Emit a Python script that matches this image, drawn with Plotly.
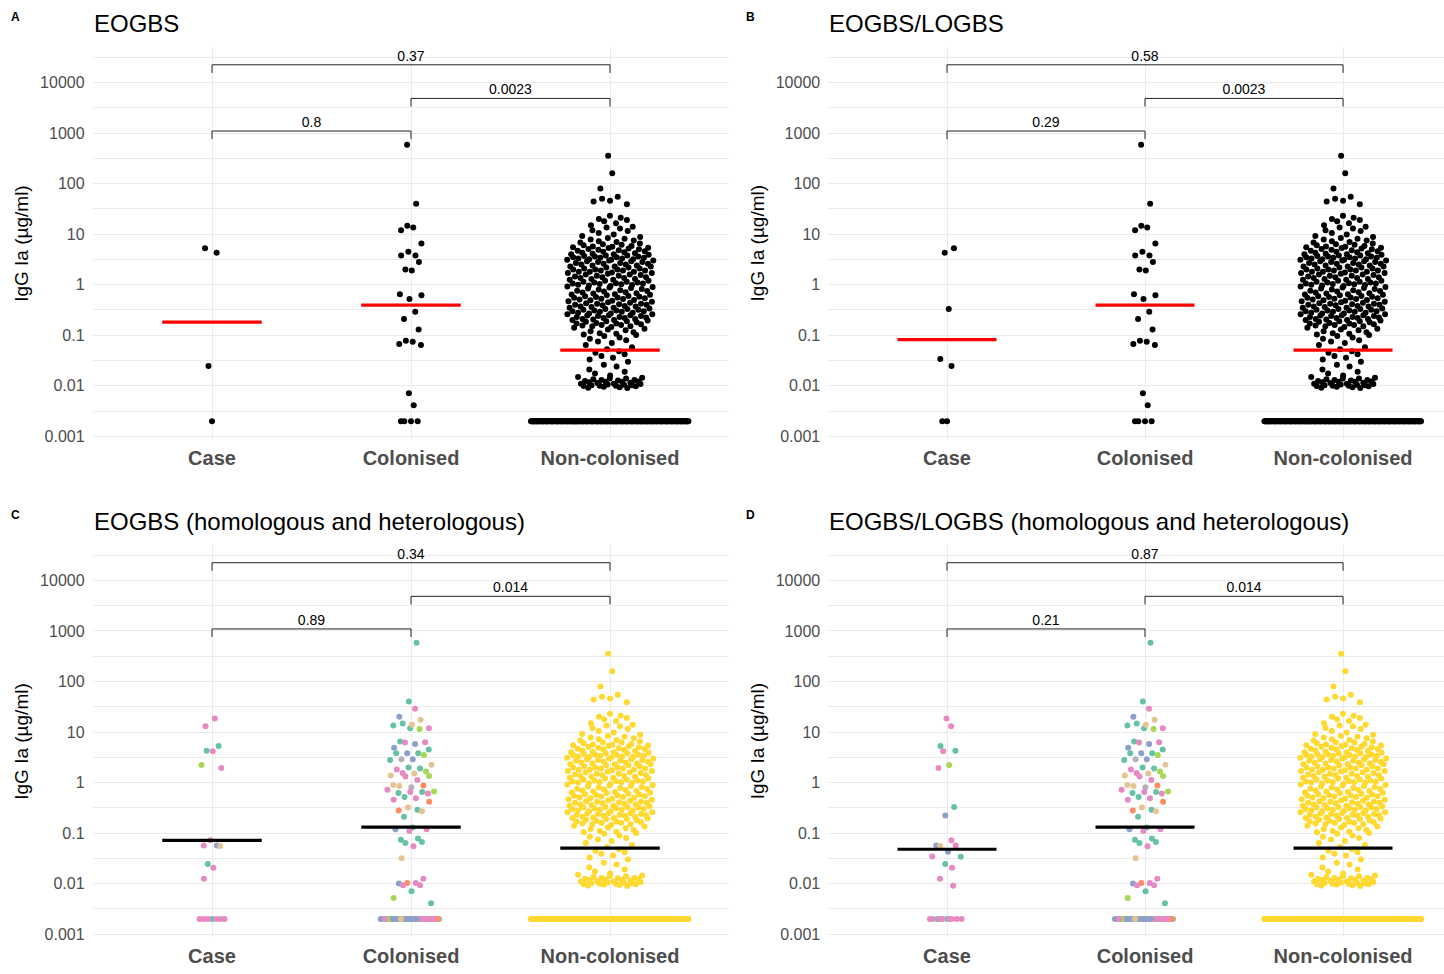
import numpy as np
import plotly.graph_objects as go

# ---------------------------------------------------------------------------
# Data: IgG Ia concentrations (µg/ml); 0.002 = below the limit of detection
# ---------------------------------------------------------------------------
groups = ["Case", "Colonised", "Non-colonised"]

# Serotype Ia (homologous) cases, early onset, and the extra late-onset ones
case_ia_eo = [5.27, 4.28, 0.0245, 0.002]
case_ia_lo_extra = [0.33, 0.034, 0.002]

# Heterologous cases (other serotypes), early onset and extra late-onset
case_het_eo = [18.6, 13.0, 4.18, 2.22, 1.94, 0.072, 0.057, 0.057, 0.056,
               0.0206, 0.0125, 0.002, 0.002, 0.002, 0.002, 0.002, 0.002]
case_het_eo_type = ["III", "III", "III", "IV", "III", "III", "III", "II", "V",
                    "III", "III", "III", "III", "III", "III", "III", "III"]
case_het_lo_extra = [0.224, 0.043, 0.0345, 0.0091, 0.002, 0.002]
case_het_lo_extra_type = ["II", "II", "III", "III", "III", "III"]

# Colonised mothers, serotype Ia
colonised_ia = [585, 40, 14.7, 13.5, 11.9, 6.5, 4.5, 3.8, 3.8, 2.8, 2.0, 1.9,
                0.65, 0.62, 0.52, 0.29, 0.21, 0.13, 0.078, 0.074, 0.067, 0.064,
                0.0071, 0.0041, 0.002, 0.002, 0.002, 0.002]

# Colonised mothers, other serotypes
colonised_het = [29, 20, 17.5, 14, 11.9, 11.5, 6.3, 6.2, 5.8, 4.9, 3.8, 3.5,
                 2.9, 2.9, 2.25, 1.82, 1.66, 1.55, 1.52, 1.39, 1.35, 1.32, 1.12,
                 0.90, 0.88, 0.86, 0.81, 0.72, 0.67, 0.65, 0.61, 0.49, 0.46,
                 0.42, 0.32, 0.28, 0.27, 0.12, 0.12, 0.11, 0.055, 0.032,
                 0.0125, 0.0103, 0.0103, 0.0101, 0.0093, 0.0093, 0.0052,
                 0.002, 0.002, 0.002, 0.002, 0.002, 0.002, 0.002, 0.002, 0.002,
                 0.002, 0.002, 0.002, 0.002, 0.002, 0.002, 0.002, 0.002, 0.002,
                 0.002, 0.002, 0.002, 0.002, 0.002, 0.002, 0.002, 0.002]
colonised_het_type = ["III", "II", "V", "V", "III", "IV", "III", "III", "II",
                      "II", "II", "IV", "II", "NT", "V", "III", "IV", "III",
                      "V", "V", "IV", "III", "III", "V", "Ib", "V", "NT", "III",
                      "IV", "III", "III", "III", "III", "Ib", "V", "Ib", "V",
                      "III", "II", "III", "III", "V", "III", "III", "Ib", "II",
                      "III", "III", "IV",
                      "V", "IV", "III", "III", "III", "II", "III", "II", "III",
                      "III", "NT", "II", "II", "II", "III", "IV", "III", "II",
                      "Ib", "III", "II", "V", "III", "II", "III", "II"]

# Non-colonised mothers
noncolonised = [
    356, 160, 80,
    55, 50, 46, 44, 39,
    23, 21, 20, 19, 18,
    16.5, 15, 14, 13.5, 13, 12, 11.5, 10.5,
    9.8, 9.2, 8.8, 8.4, 8.1, 7.8, 7.5, 7.2, 7.0, 6.8, 6.5, 6.3, 6.2, 6.0,
    5.8, 5.7,
    5.6, 5.5, 5.4, 5.3, 5.2, 5.1, 5.0, 4.9, 4.8, 4.7, 4.6, 4.5, 4.4, 4.3,
    4.2, 4.1, 4.0, 4.0, 3.9, 3.8, 3.8, 3.7, 3.6, 3.6, 3.5, 3.5, 3.4, 3.4,
    3.3, 3.3, 3.2, 3.2,
    3.1, 3.1, 3.0, 3.0, 2.9, 2.9, 2.8, 2.8, 2.7, 2.7, 2.6, 2.6, 2.5, 2.5,
    2.4, 2.4, 2.3, 2.3, 2.3, 2.2, 2.2, 2.1, 2.1, 2.0, 2.0, 2.0, 1.9, 1.9,
    1.9, 1.8, 1.8, 1.8,
    1.75, 1.7, 1.7, 1.65, 1.6, 1.6, 1.55, 1.5, 1.5, 1.45, 1.4, 1.4, 1.35,
    1.35, 1.3, 1.3, 1.25, 1.25, 1.2, 1.2, 1.15, 1.15, 1.1, 1.1, 1.07, 1.05,
    1.05, 1.03, 1.02, 1.0,
    0.99, 0.96, 0.94, 0.92, 0.9, 0.88, 0.86, 0.84, 0.82, 0.8, 0.78, 0.76,
    0.75, 0.73, 0.71, 0.7, 0.68, 0.67, 0.65, 0.64, 0.63, 0.62, 0.6, 0.59,
    0.58, 0.57, 0.56,
    0.55, 0.54, 0.53, 0.52, 0.51, 0.5, 0.49, 0.48, 0.47, 0.46, 0.45, 0.44,
    0.43, 0.42, 0.42, 0.41, 0.4, 0.4, 0.39, 0.38, 0.37, 0.37, 0.36, 0.35,
    0.35, 0.34, 0.33, 0.33, 0.32, 0.32,
    0.31, 0.31, 0.3, 0.3, 0.29, 0.29, 0.28, 0.28, 0.27, 0.27, 0.26, 0.26,
    0.25, 0.25, 0.245, 0.24, 0.24, 0.23, 0.23, 0.225, 0.22, 0.22, 0.21, 0.21,
    0.205, 0.2, 0.2, 0.195, 0.19, 0.19, 0.185, 0.18,
    0.175, 0.17, 0.17, 0.165, 0.16, 0.16, 0.155, 0.15, 0.15, 0.145, 0.14,
    0.135, 0.13, 0.125, 0.12, 0.115, 0.11, 0.107, 0.104, 0.101,
    0.097, 0.09, 0.085, 0.08, 0.075, 0.07, 0.064, 0.058,
    0.053, 0.048, 0.045, 0.042, 0.039, 0.036, 0.033,
    0.03, 0.026, 0.024, 0.021, 0.019,
    0.0175, 0.016, 0.015, 0.0145, 0.014, 0.014, 0.0135, 0.013, 0.013, 0.0128,
    0.0125, 0.0122, 0.012, 0.012, 0.0118, 0.0115, 0.0113, 0.011, 0.011,
    0.0108, 0.0106, 0.0105, 0.0103, 0.0102, 0.01, 0.01, 0.0099, 0.0098,
    0.0096, 0.0094, 0.0092, 0.009]
noncolonised_below_lod = [0.002] * 226

# p-values of the pairwise comparisons: (Case-Colonised, Colonised-Non, Case-Non)
p_values = {
    "A": ["0.8", "0.0023", "0.37"],
    "B": ["0.29", "0.0023", "0.58"],
    "C": ["0.89", "0.014", "0.34"],
    "D": ["0.21", "0.014", "0.87"],
}
titles = {
    "A": "EOGBS",
    "B": "EOGBS/LOGBS",
    "C": "EOGBS (homologous and heterologous)",
    "D": "EOGBS/LOGBS (homologous and heterologous)",
}

serotype_colours = {"Ia": "#66C2A5", "Ib": "#FC8D62", "II": "#8DA0CB",
                    "III": "#E78AC3", "IV": "#A6D854", "V": "#E5C494",
                    "NT": "#B3B3B3", "none": "#FFD92F"}

# ---------------------------------------------------------------------------
# Layout geometry (pixels in a 1444 x 974 canvas)
# ---------------------------------------------------------------------------
W, H = 1444, 974
Y_RANGE = [-3.06, 4.70]
panel_geom = {
    "A": dict(x=(92.6, 729.4), y=(47.4, 442.1), xr=[-0.6, 2.6]),
    "B": dict(x=(828.2, 1444.0), y=(47.4, 442.1), xr=[-0.6, 2.51]),
    "C": dict(x=(92.6, 729.4), y=(548.4, 943.1), xr=[-0.6, 2.6]),
    "D": dict(x=(828.2, 1444.0), y=(548.4, 943.1), xr=[-0.6, 2.51]),
}

GRID = "#EBEBEB"
TICK_GREY = "#4D4D4D"
FONT = "Liberation Sans"


def van_der_corput(n):
    out = []
    for i in range(1, n + 1):
        v, denom, k = 0.0, 1.0, i
        while k:
            denom *= 2.0
            k, r = divmod(k, 2)
            v += r / denom
        out.append(v)
    return np.array(out)


def count_density(logv, bw=0.2):
    d = logv[:, None] - logv[None, :]
    return np.exp(-0.5 * (d / bw) ** 2).sum(axis=1) / (np.sqrt(2 * np.pi) * bw)


def quasirandom_offsets(values, dmax, width=0.4, power=0.45):
    logv = np.log10(np.asarray(values, dtype=float))
    n = len(logv)
    order = np.argsort(logv, kind="stable")
    ranks = np.empty(n, dtype=int)
    ranks[order] = np.arange(n)
    vdc = van_der_corput(n)
    scale = (count_density(logv) / dmax) ** power
    return (vdc[ranks] - 0.5) * 2 * width * scale


def geometric_mean(values):
    return float(10 ** np.mean(np.log10(values)))


def build_panel(key):
    if key in ("A", "C"):
        case_ia = case_ia_eo
        case_het, case_het_t = case_het_eo, case_het_eo_type
    else:
        case_ia = case_ia_eo + case_ia_lo_extra
        case_het = case_het_eo + case_het_lo_extra
        case_het_t = case_het_eo_type + case_het_lo_extra_type
    nonc = noncolonised + noncolonised_below_lod
    if key in ("A", "B"):
        data = [(case_ia, ["Ia"] * len(case_ia)),
                (colonised_ia, ["Ia"] * len(colonised_ia)),
                (nonc, ["none"] * len(nonc))]
    else:
        data = [(case_ia + case_het, ["Ia"] * len(case_ia) + case_het_t),
                (colonised_ia + colonised_het,
                 ["Ia"] * len(colonised_ia) + colonised_het_type),
                (nonc, ["none"] * len(nonc))]
    return data


fig = go.Figure()
annotations = []
layout_axes = {}

for idx, key in enumerate(["A", "B", "C", "D"], start=1):
    g = panel_geom[key]
    xa = "x" if idx == 1 else f"x{idx}"
    ya = "y" if idx == 1 else f"y{idx}"
    coloured = key in ("C", "D")
    data = build_panel(key)

    dmax = max(count_density(np.log10(np.asarray(v, float))).max()
               for v, _ in data)

    for gi, (vals, types) in enumerate(data):
        offs = quasirandom_offsets(vals, dmax)
        if coloured:
            cols = [serotype_colours[t] for t in types]
        else:
            cols = "black"
        fig.add_trace(go.Scatter(
            x=gi + offs, y=vals, mode="markers", xaxis=xa, yaxis=ya,
            marker=dict(size=6, color=cols, line=dict(width=0)),
            hoverinfo="skip", showlegend=False))

    # geometric mean bars
    for gi, (vals, _) in enumerate(data):
        gm = geometric_mean(vals)
        fig.add_trace(go.Scatter(
            x=[gi - 0.25, gi + 0.25], y=[gm, gm], mode="lines",
            xaxis=xa, yaxis=ya,
            line=dict(color="black" if coloured else "#FF0000", width=3.2),
            hoverinfo="skip", showlegend=False))

    # significance brackets
    pairs = [(0, 1, 10 ** 3.04), (1, 2, 10 ** 3.685), (0, 2, 10 ** 4.35)]
    tip = 10 ** -0.16
    for (a, b, lvl), label in zip(pairs, p_values[key]):
        fig.add_trace(go.Scatter(
            x=[a, a, b, b], y=[lvl * tip, lvl, lvl, lvl * tip], mode="lines",
            xaxis=xa, yaxis=ya, line=dict(color="#222222", width=1),
            hoverinfo="skip", showlegend=False))
        fig.add_trace(go.Scatter(
            x=[(a + b) / 2], y=[lvl * 10 ** 0.15], mode="text", text=[label],
            textposition="middle center", xaxis=xa, yaxis=ya,
            textfont=dict(family=FONT, size=14, color="black"),
            hoverinfo="skip", showlegend=False))

    xdom = [g["x"][0] / W, g["x"][1] / W]
    ydom = [1 - g["y"][1] / H, 1 - g["y"][0] / H]
    layout_axes["xaxis" if idx == 1 else f"xaxis{idx}"] = dict(
        domain=xdom, range=g["xr"], anchor=ya, tickmode="array",
        tickvals=[0, 1, 2], ticktext=groups, showgrid=True, gridcolor=GRID,
        gridwidth=1.2, zeroline=False, showline=False, ticks="",
        ticklabelstandoff=5,
        tickfont=dict(family=FONT, size=20, color=TICK_GREY, weight="bold"))
    layout_axes["yaxis" if idx == 1 else f"yaxis{idx}"] = dict(
        domain=ydom, type="log", range=Y_RANGE, anchor=xa, tickmode="array",
        tickvals=[0.001, 0.01, 0.1, 1, 10, 100, 1000, 10000],
        ticktext=["0.001", "0.01", "0.1", "1", "10", "100", "1000", "10000"],
        showgrid=True, gridcolor=GRID, gridwidth=1.2, zeroline=False,
        showline=False, ticks="", ticklabelstandoff=7,
        tickfont=dict(family=FONT, size=16, color=TICK_GREY),
        minor=dict(tickmode="array",
                   tickvals=[10 ** (k + 0.5) for k in range(-3, 5)],
                   showgrid=True, gridcolor=GRID, gridwidth=0.8, ticks=""))

    left = g["x"][0]
    top = g["y"][0]
    annotations.append(dict(
        text=titles[key], xref="paper", yref="paper", x=(left - 1) / W,
        y=1 - (top - 24) / H, xanchor="left", yanchor="middle",
        showarrow=False, font=dict(family=FONT, size=24, color="black")))
    annotations.append(dict(
        text=f"<b>{key}</b>", xref="paper", yref="paper", x=(left - 84) / W,
        y=1 - (top - 30) / H, xanchor="left", yanchor="middle",
        showarrow=False, font=dict(family=FONT, size=12, color="black")))
    annotations.append(dict(
        text="IgG Ia (µg/ml)", xref="paper", yref="paper",
        x=(left - 71) / W, y=1 - ((g["y"][0] + g["y"][1]) / 2) / H,
        xanchor="center", yanchor="middle", textangle=-90,
        showarrow=False, font=dict(family=FONT, size=19, color="black")))

fig.update_layout(
    width=W, height=H, margin=dict(l=0, r=0, t=0, b=0),
    paper_bgcolor="white", plot_bgcolor="white", showlegend=False,
    annotations=annotations, hovermode=False, **layout_axes)

fig.write_html("out.html")
